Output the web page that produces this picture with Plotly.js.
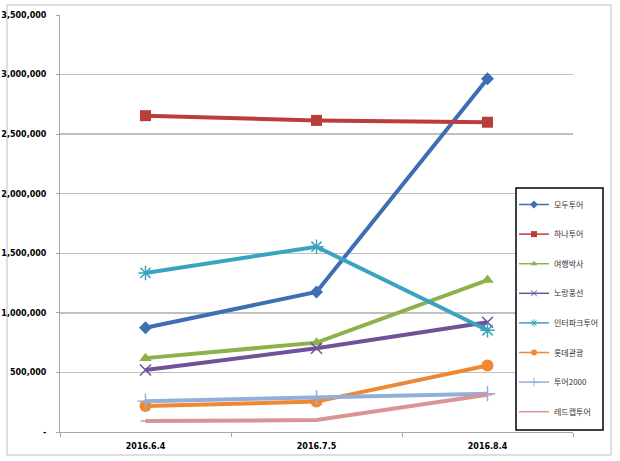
<!DOCTYPE html>
<html>
<head>
<meta charset="utf-8">
<script src="https://cdn.plot.ly/plotly-3.0.1.min.js"></script>
<style>
  html, body { margin: 0; padding: 0; background: #fff; }
  #chart { width: 620px; height: 461px; }
</style>
</head>
<body>
<div id="chart"></div>
<script>
// dates on the x axis
var dates = ['2016.6.4', '2016.7.5', '2016.8.4'];

// one array per travel agency
var modetour = [875000, 1175000, 2965000];
var hanatour = [2655000, 2615000, 2600000];
var tourbaksa = [620000, 750000, 1275000];
var yellowBalloon = [520000, 703000, 921000];
var interparkTour = [1335000, 1555000, 854000];
var lotteTour = [218000, 255000, 558000];
var tour2000 = [258000, 288000, 322000];
var redcapTour = [92000, 100000, 312000];

var names = ['모두투어', '하나투어', '여행박사', '노랑풍선', '인터파크투어', '롯데관광', '투어2000', '레드캡투어'];

var yTicks = [0, 500000, 1000000, 1500000, 2000000, 2500000, 3000000, 3500000];
var yTickText = ['-', '500,000', '1,000,000', '1,500,000', '2,000,000', '2,500,000', '3,000,000', '3,500,000'];

var series = [modetour, hanatour, tourbaksa, yellowBalloon, interparkTour, lotteTour, tour2000, redcapTour];
var colors = ['#3d6fb2', '#b93e3b', '#8db14b', '#6f5298', '#3ba2c0', '#ef8733', '#92afd9', '#d99494'];
var symbols = ['diamond', 'square', 'triangle-up', 'x-thin', 'asterisk', 'circle', 'cross-thin', 'line-ew'];
var sizes = [10, 11, 11, 11, 12, 12, 11, 7];

var traces = [];
// the drawn lines (no legend entry, the legend uses thin proxies below)
for (var i = 0; i < series.length; i++) {
	var thin = symbols[i].indexOf('thin') > -1 || symbols[i] === 'asterisk' || symbols[i] === 'line-ew';
	traces.push({
		x: dates,
		y: series[i],
		name: names[i],
		showlegend: false,
		mode: 'lines+markers',
		type: 'scatter',
		line: {color: colors[i], width: 4},
		marker: {
			symbol: symbols[i],
			size: sizes[i],
			color: colors[i],
			line: {color: colors[i], width: thin ? 1.5 : 0}
		}
	});
}
// legend entries: thin line with a small marker, like the excel legend
for (var i = 0; i < series.length; i++) {
	var thin = symbols[i].indexOf('thin') > -1 || symbols[i] === 'asterisk' || symbols[i] === 'line-ew';
	traces.push({
		x: [null],
		y: [null],
		name: names[i],
		legendgroup: 'g' + i,
		mode: i === 7 ? 'lines' : 'lines+markers',
		type: 'scatter',
		line: {color: colors[i], width: 1.5},
		marker: {
			symbol: symbols[i],
			size: 6,
			color: colors[i],
			line: {color: colors[i], width: thin ? 1 : 0}
		}
	});
}

// paper coords are relative to the plot area (60..573 x, 15..432 y)
function px(x) { return (x - 60) / 513; }
function py(y) { return (432 - y) / 417; }

var layout = {
	width: 620,
	height: 461,
	margin: {l: 60, r: 47, t: 15, b: 29, autoexpand: false},
	paper_bgcolor: '#ffffff',
	plot_bgcolor: '#ffffff',
	showlegend: true,
	font: {family: 'DejaVu Sans, sans-serif', size: 8, color: '#000'},
	xaxis: {
		type: 'category',
		range: [-0.5, 2.5],
		showgrid: false,
		showline: true,
		linecolor: '#a6a6a6',
		linewidth: 1,
		ticks: 'outside',
		tickson: 'boundaries',
		ticklen: 4,
		tickcolor: '#a6a6a6',
		ticklabelstandoff: 6,
		tickfont: {family: 'DejaVu Sans, sans-serif', size: 8, color: '#000', weight: 'bold'},
		fixedrange: true
	},
	yaxis: {
		range: [0, 3500000],
		tickvals: yTicks,
		ticktext: yTickText,
		showgrid: true,
		gridcolor: '#c0c0c0',
		gridwidth: 1.5,
		zeroline: false,
		showline: true,
		linecolor: '#a6a6a6',
		linewidth: 1,
		ticks: 'outside',
		ticklen: 3,
		tickcolor: '#a6a6a6',
		ticklabelstandoff: 8,
		tickfont: {family: 'DejaVu Sans, sans-serif', size: 8, color: '#000', weight: 'bold'},
		fixedrange: true
	},
	legend: {
		x: px(514),
		y: py(190),
		xanchor: 'left',
		yanchor: 'top',
		bgcolor: 'rgba(0,0,0,0)',
		borderwidth: 0,
		traceorder: 'grouped',
		tracegroupgap: 10.6,
		itemwidth: 30,
		font: {family: 'Noto Sans CJK KR, sans-serif', size: 8, color: '#333'}
	},
	shapes: [
		{
			type: 'rect', xref: 'paper', yref: 'paper',
			x0: px(7), x1: px(611), y0: py(455), y1: py(5),
			line: {color: '#bfbfbf', width: 1},
			layer: 'below'
		},
		{
			type: 'rect', xref: 'paper', yref: 'paper',
			x0: px(516), x1: px(603), y0: py(430), y1: py(188),
			fillcolor: '#ffffff',
			line: {color: '#000000', width: 1.5},
			layer: 'above'
		}
	]
};

Plotly.newPlot('chart', traces, layout, {staticPlot: true});
</script>
</body>
</html>
